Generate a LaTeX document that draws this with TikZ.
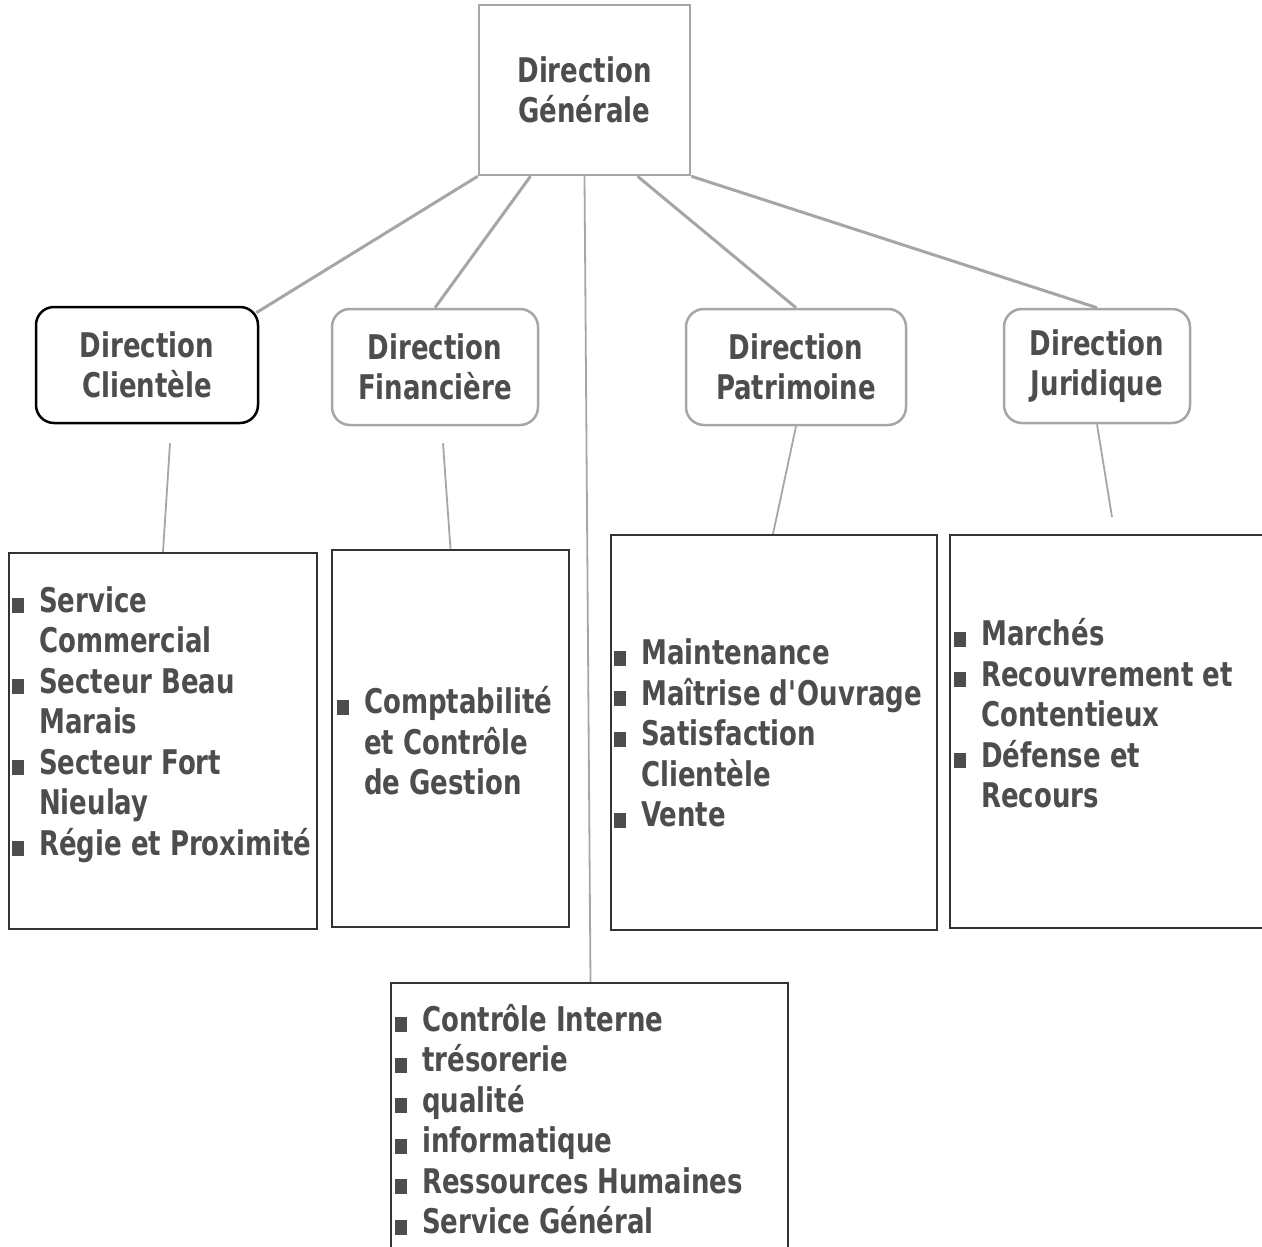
\documentclass[tikz,border=0pt]{standalone}
\usepackage{fontspec}
\setmainfont{DejaVu Sans Condensed}[FakeStretch=0.85]
\usepackage{tikz}

\definecolor{txtgray}{HTML}{4D4D4D}
\definecolor{linegray}{HTML}{A6A6A6}
\definecolor{boxgray}{HTML}{333333}

\newcommand{\blt}{\makebox[27pt][l]{\rule[-1pt]{12pt}{15pt}}}
\newcommand{\ind}{\hspace*{27pt}}

\begin{document}
\begin{tikzpicture}[x=1pt,y=-1pt,
    txt/.style={text=txtgray,font=\fontsize{34}{40.5}\selectfont\bfseries},
    dirbox/.style={shape=rectangle,rounded corners=18pt,draw=linegray,line width=2.5pt,txt,align=center,inner sep=0pt},
    listbox/.style={shape=rectangle,draw=boxgray,line width=2pt,inner sep=0pt},
    listtxt/.style={txt,align=left,anchor=west,inner sep=0pt},
    conn/.style={draw=linegray,line width=3pt},
    subconn/.style={draw=linegray,line width=1.8pt}]
    \clip (0,0) rectangle (1262,1247);
    \useasboundingbox (0,0) rectangle (1262,1247);

    % directions
    \node[shape=rectangle,draw=linegray,line width=2.5pt,txt,align=center,minimum width=211,minimum height=170] (dg) at (584.5,90) {Direction\\Générale};
    \node[dirbox,draw=black,minimum width=222,minimum height=116] (dc) at (147,365) {Direction\\Clientèle};
    \node[dirbox,minimum width=206,minimum height=116] (dfi) at (435,367) {Direction\\Financière};
    \node[dirbox,minimum width=220,minimum height=116] (dp) at (796,367) {Direction\\Patrimoine};
    \node[dirbox,minimum width=186,minimum height=114] (dj) at (1097,366) {Direction\\Juridique};

    % services
    \node[listbox,minimum width=308,minimum height=376] (b1) at (163,741) {};
    \node[listbox,minimum width=237,minimum height=377] (b2) at (450.5,738.5) {};
    \node[listbox,minimum width=326,minimum height=395] (b3) at (774,732.5) {};
    \node[listbox,minimum width=314,minimum height=393] (b4) at (1107,731.5) {};
    \node[listbox,minimum width=397,minimum height=277] (b5) at (589.5,1121.5) {};

    \node[listtxt] (t1) at (12,724.5) {\blt Service\\ \ind Commercial\\ \blt Secteur Beau\\ \ind Marais\\ \blt Secteur Fort\\ \ind Nieulay\\ \blt Régie et Proximité};
    \node[listtxt] (t2) at (337,741) {\blt Comptabilité\\ \ind et Contrôle\\ \ind de Gestion};
    \node[listtxt] (t3) at (614,733.5) {\blt Maintenance\\ \blt Maîtrise d\textquotesingle Ouvrage\\ \blt Satisfaction\\ \ind Clientèle\\ \blt Vente};
    \node[listtxt] (t4) at (954,713.5) {\blt Marchés\\ \blt Recouvrement et\\ \ind Contentieux\\ \blt Défense et\\ \ind Recours};
    \node[listtxt] (t5) at (395,1119.5) {\blt Contrôle Interne\\ \blt trésorerie\\ \blt qualité\\ \blt informatique\\ \blt Ressources Humaines\\ \blt Service Général};

    \coordinate (jend) at (1112,517);

    \path[conn] (dg.south west) -- ([xshift=-3,yshift=-7]dc.north east);
    \path[conn] ([xshift=-54]dg.south) -- (dfi.north);
    \path[subconn] (dg.south) -- ([xshift=1]b5.north);
    \path[conn] ([xshift=53]dg.south) -- (dp.north);
    \path[conn] (dg.south east) -- (dj.north);

    \path[subconn] ([xshift=23,yshift=-19]dc.south) -- (b1.north);
    \path[subconn] ([xshift=8,yshift=-17]dfi.south) -- (b2.north);
    \path[subconn] (dp.south) -- ([xshift=-1]b3.north);
    \path[subconn] (dj.south) -- (jend);
\end{tikzpicture}
\end{document}
